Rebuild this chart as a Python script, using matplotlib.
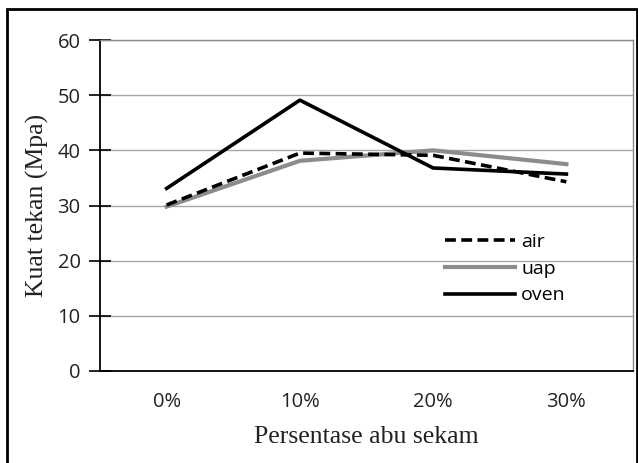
import matplotlib.pyplot as plt
from matplotlib.patches import Rectangle

categories = ["0%", "10%", "20%", "30%"]
air = [30.1, 39.5, 39.1, 34.3]
uap = [29.8, 38.1, 40.0, 37.5]
oven = [33.1, 49.1, 36.8, 35.7]
yticks = [0, 10, 20, 30, 40, 50, 60]

W, H = 638, 463
fig = plt.figure(figsize=(W / 100, H / 100), dpi=100)
fig.patch.set_facecolor("white")

# outer frame around the whole chart
fig.patches.append(Rectangle((7 / W, -0.05), (W - 8) / W, (H - 9) / H + 0.05,
                             transform=fig.transFigure, fill=False,
                             edgecolor="black", linewidth=2.0))

ax = fig.add_axes([100 / W, (H - 371) / H, 533 / W, 331 / H])
x = range(len(categories))

ax.plot(x, uap, color="#8c8c8c", linewidth=3.0, label="uap", zorder=3)
ax.plot(x, oven, color="black", linewidth=2.6, label="oven", zorder=4)
ax.plot(x, air, color="black", linewidth=2.6, linestyle=(0, (3, 1.5)),
        label="air", zorder=5)

ax.set_xlim(-0.5, len(categories) - 0.5)
ax.set_ylim(0, 60)
ax.set_yticks(yticks)
ax.set_xticks(list(x))
ax.set_xticklabels(categories)
ax.grid(True, axis="y", color="#a6a6a6", linewidth=1.0)
ax.set_axisbelow(True)

for s in ["top", "right"]:
    ax.spines[s].set_color("#8c8c8c")
    ax.spines[s].set_linewidth(1.0)
for s in ["left", "bottom"]:
    ax.spines[s].set_color("black")
    ax.spines[s].set_linewidth(1.3)

ax.tick_params(axis="y", direction="inout", length=16, width=1.2,
               labelsize=14.5, pad=6, colors="black", labelcolor="#222222")
ax.tick_params(axis="x", length=0, labelsize=14.5, pad=15, labelcolor="#222222")
for lbl in ax.get_xticklabels() + ax.get_yticklabels():
    lbl.set_family("Open Sans")

ax.set_ylabel("Kuat tekan (Mpa)", family="Liberation Serif", fontsize=18.5,
              color="#222222", labelpad=6)
ax.set_xlabel("Persentase abu sekam", family="Liberation Serif", fontsize=18.5,
              color="#222222", labelpad=10)

handles, labels = ax.get_legend_handles_labels()
order = [labels.index(n) for n in ["air", "uap", "oven"]]
leg = ax.legend([handles[i] for i in order], [labels[i] for i in order],
                loc="upper left", bbox_to_anchor=(0.615, 0.47), frameon=False,
                handlelength=3.6, handletextpad=0.3, labelspacing=0.45,
                prop={"family": "Open Sans", "size": 14})

fig.savefig("out.png", dpi=100, facecolor="white")
